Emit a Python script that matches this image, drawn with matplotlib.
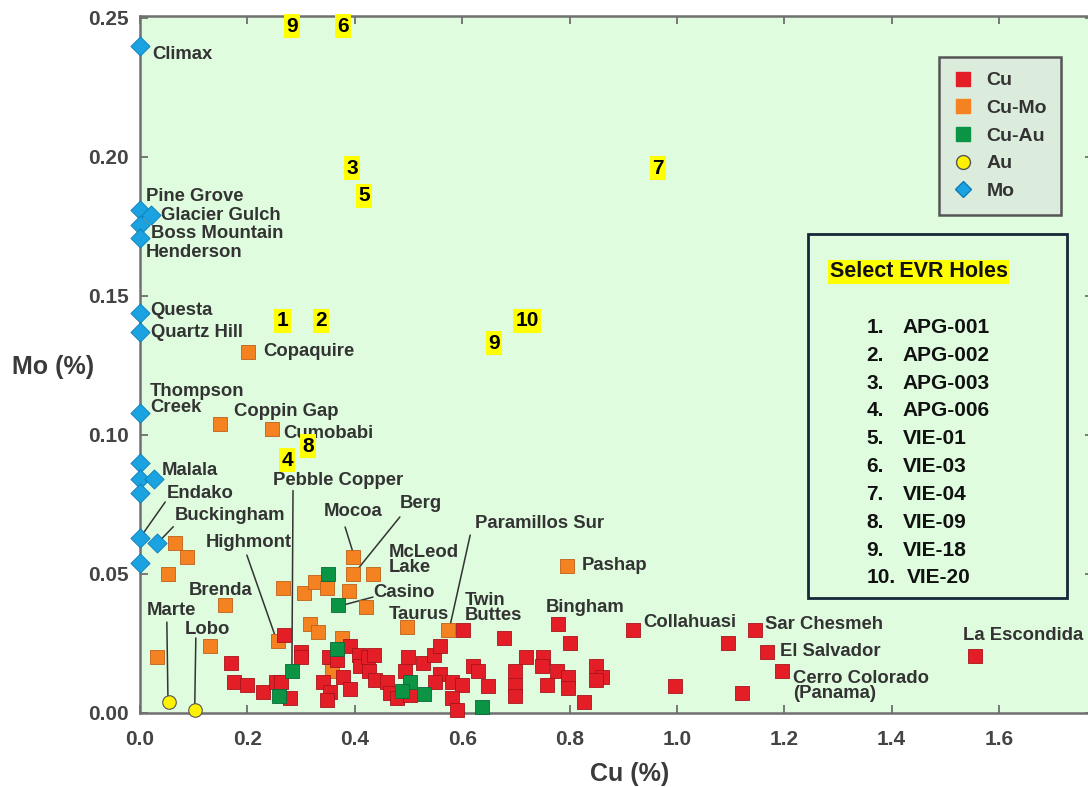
import matplotlib
matplotlib.use("Agg")
import matplotlib.pyplot as plt
from matplotlib.lines import Line2D
from matplotlib.patches import Rectangle

plt.rcParams['font.family'] = ['Liberation Sans', 'DejaVu Sans']
plt.rcParams['font.weight'] = 'bold'

# deposit data (Cu %, Mo %)
cu_x = [0.268, 0.169, 0.175, 0.199, 0.229, 0.253, 0.262, 0.279, 0.300, 0.300,
        0.352, 0.366, 0.341, 0.354, 0.348, 0.378, 0.391, 0.392, 0.408, 0.410,
        0.425, 0.436, 0.427, 0.438, 0.460, 0.466, 0.478, 0.499, 0.493, 0.503,
        0.527, 0.548, 0.559, 0.559, 0.549, 0.581, 0.599, 0.581, 0.590, 0.601,
        0.620, 0.629, 0.648, 0.678, 0.719, 0.750, 0.748, 0.776, 0.778, 0.801,
        0.698, 0.698, 0.698, 0.758, 0.797, 0.797, 0.827, 0.849, 0.860, 0.849,
        0.918, 0.996, 1.095, 1.145, 1.168, 1.121, 1.196, 1.555]
cu_y = [0.028, 0.018, 0.011, 0.010, 0.0075, 0.011, 0.011, 0.0054, 0.022, 0.020,
        0.020, 0.019, 0.011, 0.0076, 0.0047, 0.013, 0.0086, 0.024, 0.021, 0.017,
        0.020, 0.021, 0.015, 0.012, 0.011, 0.0071, 0.0054, 0.020, 0.015, 0.0065,
        0.018, 0.021, 0.024, 0.014, 0.011, 0.011, 0.010, 0.0054, 0.001, 0.030,
        0.017, 0.015, 0.0097, 0.027, 0.020, 0.020, 0.017, 0.015, 0.032, 0.025,
        0.015, 0.010, 0.006, 0.010, 0.013, 0.009, 0.004, 0.017, 0.013, 0.012,
        0.030, 0.0097, 0.025, 0.030, 0.022, 0.0072, 0.015, 0.0205]

cumo_x = [0.201, 0.149, 0.246, 0.065, 0.087, 0.052, 0.032, 0.158, 0.130, 0.257,
          0.266, 0.305, 0.326, 0.348, 0.397, 0.397, 0.434, 0.389, 0.421, 0.317,
          0.331, 0.376, 0.357, 0.497, 0.573, 0.795]
cumo_y = [0.130, 0.104, 0.102, 0.061, 0.056, 0.050, 0.020, 0.039, 0.024, 0.026,
          0.045, 0.043, 0.047, 0.045, 0.056, 0.050, 0.050, 0.044, 0.038, 0.032,
          0.029, 0.027, 0.015, 0.031, 0.030, 0.053]

cuau_x = [0.350, 0.369, 0.283, 0.259, 0.367, 0.503, 0.488, 0.529, 0.637]
cuau_y = [0.050, 0.039, 0.015, 0.006, 0.023, 0.011, 0.008, 0.007, 0.002]

au_x = [0.054, 0.102]
au_y = [0.004, 0.001]

mo_x = [0.0, 0.0, 0.02, 0.0, 0.0, 0.0, 0.0, 0.0, 0.0, 0.0, 0.026, 0.0, 0.0, 0.032, 0.0]
mo_y = [0.240, 0.181, 0.179, 0.1755, 0.171, 0.144, 0.137, 0.108, 0.090, 0.084,
        0.084, 0.079, 0.063, 0.061, 0.054]

# deposit names: (text, x, y) text anchored left / centre
deposit_labels = [
    ("Climax", 0.022, 0.237), ("Pine Grove", 0.011, 0.1856),
    ("Glacier Gulch", 0.039, 0.1788), ("Boss Mountain", 0.020, 0.1723),
    ("Henderson", 0.011, 0.1655), ("Questa", 0.020, 0.1446),
    ("Quartz Hill", 0.020, 0.137), ("Thompson\nCreek", 0.019, 0.1128),
    ("Copaquire", 0.229, 0.130), ("Coppin Gap", 0.175, 0.1085),
    ("Cumobabi", 0.266, 0.1007), ("Malala", 0.041, 0.0874),
    ("Endako", 0.050, 0.0788), ("Buckingham", 0.065, 0.0709),
    ("Pebble Copper", 0.248, 0.0838), ("Highmont", 0.123, 0.0612),
    ("Mocoa", 0.343, 0.0723), ("Berg", 0.484, 0.0752),
    ("McLeod\nLake", 0.464, 0.055), ("Casino", 0.434, 0.0435),
    ("Brenda", 0.091, 0.0442), ("Marte", 0.013, 0.037), ("Lobo", 0.084, 0.0302),
    ("Taurus", 0.464, 0.0356), ("Paramillos Sur", 0.624, 0.068),
    ("Twin\nButtes", 0.605, 0.0378), ("Bingham", 0.756, 0.0381),
    ("Pashap", 0.823, 0.0529), ("Collahuasi", 0.937, 0.0327),
    ("Sar Chesmeh", 1.164, 0.032), ("El Salvador", 1.192, 0.0223),
    ("Cerro Colorado\n(Panama)", 1.216, 0.0097), ("La Escondida", 1.533, 0.0277),
]

# leader lines: (start, end)
leaders = [
    ((0.047, 0.0759), (0.0, 0.063)), ((0.062, 0.0670), (0.032, 0.061)),
    ((0.285, 0.080), (0.283, 0.017)), ((0.199, 0.0568), (0.253, 0.027)),
    ((0.382, 0.0669), (0.397, 0.0576)), ((0.484, 0.0705), (0.404, 0.0514)),
    ((0.434, 0.0417), (0.372, 0.0385)), ((0.050, 0.0327), (0.052, 0.0058)),
    ((0.104, 0.027), (0.102, 0.003)), ((0.615, 0.064), (0.577, 0.031)),
]

# EVR hole numbers
hole_num = ["9", "6", "3", "5", "7", "1", "2", "10", "9", "4", "8"]
hole_x = [0.283, 0.378, 0.395, 0.417, 0.965, 0.266, 0.337, 0.721, 0.659, 0.274, 0.313]
hole_y = [0.247, 0.247, 0.196, 0.186, 0.196, 0.141, 0.141, 0.141, 0.133, 0.091, 0.096]

hole_ids = ["APG-001", "APG-002", "APG-003", "APG-006", "VIE-01",
            "VIE-03", "VIE-04", "VIE-09", "VIE-18", "VIE-20"]

bg = '#dffcdf'
txt = '#333333'

fig = plt.figure(figsize=(10.88, 7.87), dpi=100)
ax = fig.add_axes([140 / 1088, 74 / 787, 953 / 1088, 697 / 787])
ax.set_facecolor(bg)
ax.set_xlim(0, 1.775)
ax.set_ylim(0, 0.2507)

ax.scatter(cumo_x, cumo_y, marker='s', s=105, color='#f58220', edgecolors='#c0601a',
           linewidths=0.6, zorder=3, clip_on=False)
ax.scatter(cu_x, cu_y, marker='s', s=105, color='#e41e26', edgecolors='#a8141a',
           linewidths=0.6, zorder=3, clip_on=False)
ax.scatter(cuau_x, cuau_y, marker='s', s=105, color='#0b9444', edgecolors='#07693a',
           linewidths=0.6, zorder=4, clip_on=False)
ax.scatter(au_x, au_y, marker='o', s=95, color='#fff200', edgecolors='#555555',
           linewidths=0.8, zorder=4, clip_on=False)
ax.scatter(mo_x, mo_y, marker='D', s=95, color='#1aa3e0', edgecolors='#0b7cb8',
           linewidths=0.6, zorder=5, clip_on=False)

for start, end in leaders:
    ax.annotate('', xy=end, xytext=start,
                arrowprops=dict(arrowstyle='-', lw=1.1, color='#333333',
                                shrinkA=0, shrinkB=0), zorder=2)

for name, x, y in deposit_labels:
    ax.text(x, y, name, fontsize=13.3, color=txt, ha='left', va='center',
            linespacing=0.9, zorder=6)

for n, x, y in zip(hole_num, hole_x, hole_y):
    ax.text(x, y, n, fontsize=15, color='black', ha='center', va='center', zorder=7,
            bbox=dict(boxstyle='square,pad=0.12', facecolor='#ffff00', edgecolor='none'))

# legend
handles = [
    Line2D([], [], marker='s', ls='none', ms=10, color='#e41e26', label='Cu'),
    Line2D([], [], marker='s', ls='none', ms=10, color='#f58220', label='Cu-Mo'),
    Line2D([], [], marker='s', ls='none', ms=10, color='#0b9444', label='Cu-Au'),
    Line2D([], [], marker='o', ls='none', ms=10, markerfacecolor='#fff200',
           markeredgecolor='#555555', label='Au'),
    Line2D([], [], marker='D', ls='none', ms=8.5, markerfacecolor='#1aa3e0',
           markeredgecolor='#0b7cb8', label='Mo'),
]
leg = ax.legend(handles=handles, loc='upper left', bbox_to_anchor=(0.838, 0.941),
                fontsize=14, frameon=True, fancybox=False, labelspacing=0.52,
                handlelength=1.0, handletextpad=0.7, borderpad=0.75,
                borderaxespad=0)
leg.get_frame().set_facecolor('#dcecdc')
leg.get_frame().set_edgecolor('#555555')
leg.get_frame().set_linewidth(1.8)
leg.get_frame().set_alpha(1)
for t in leg.get_texts():
    t.set_color(txt)
    t.set_fontweight('bold')

# EVR hole box
ax.add_patch(Rectangle((0.701, 0.165), 0.272, 0.522, transform=ax.transAxes,
                       facecolor='none', edgecolor='#15283a', lw=2, zorder=6))
ax.text(0.817, 0.633, "Select EVR Holes", transform=ax.transAxes, fontsize=15.5,
        ha='center', va='center', color='#111111', zorder=7,
        bbox=dict(boxstyle='square,pad=0.08', facecolor='#ffff00', edgecolor='none'))
for i, hid in enumerate(hole_ids):
    yy = 0.553 - i * 0.0399
    ax.text(0.762, yy, f"{i + 1}.", transform=ax.transAxes, fontsize=15,
            ha='left', va='center', color='#111111', zorder=7)
    ax.text(0.800 if i < 9 else 0.805, yy, hid, transform=ax.transAxes, fontsize=15,
            ha='left', va='center', color='#111111', zorder=7)

# axes styling
ax.set_xticks([0.0, 0.2, 0.4, 0.6, 0.8, 1.0, 1.2, 1.4, 1.6])
ax.set_yticks([0.0, 0.05, 0.10, 0.15, 0.20, 0.25])
ax.set_xticklabels(["0.0", "0.2", "0.4", "0.6", "0.8", "1.0", "1.2", "1.4", "1.6"])
ax.set_yticklabels(["0.00", "0.05", "0.10", "0.15", "0.20", "0.25"])
ax.tick_params(axis='both', direction='in', length=5.5, width=1.4, color='#777777',
               top=True, right=True, labelsize=15, labelcolor='#444444')
ax.tick_params(axis='x', pad=12)
ax.tick_params(axis='y', pad=8)
for sp in ax.spines.values():
    sp.set_color('#707070')
    sp.set_linewidth(1.8)

fig.text(53 / 1088, 1 - 367 / 787, "Mo (%)", fontsize=18, color='#3a3a3a',
         ha='center', va='center')
fig.text(630 / 1088, 1 - 774 / 787, "Cu (%)", fontsize=18, color='#3a3a3a',
         ha='center', va='center')

fig.savefig("out.png", dpi=100)
